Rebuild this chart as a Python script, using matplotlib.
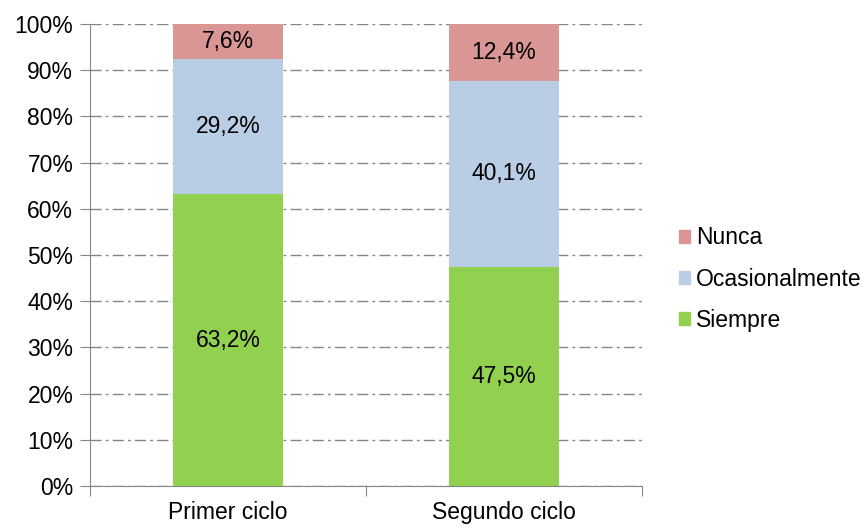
import matplotlib.pyplot as plt
from matplotlib.patches import Patch
import numpy as np

# Data
categories = ["Primer ciclo", "Segundo ciclo"]
siempre = [63.2, 47.5]
ocasionalmente = [29.2, 40.1]
nunca = [7.6, 12.4]
series_names = ["Siempre", "Ocasionalmente", "Nunca"]
colors = ["#92D050", "#B9CDE5", "#D99694"]

plt.rcParams["font.family"] = ["Liberation Sans", "DejaVu Sans"]
fs = 16.5

fig = plt.figure(figsize=(8.66, 5.29), dpi=100)
ax = fig.add_axes([90 / 866, 1 - 486 / 529, 552 / 866, 462 / 529])

x = np.arange(len(categories))
width = 0.4
bottom = np.zeros(len(categories))
for values, name, color in zip([siempre, ocasionalmente, nunca], series_names, colors):
    ax.bar(x, values, width, bottom=bottom, color=color, label=name, zorder=3)
    # Labels centred in each segment
    for xi, b, v in zip(x, bottom, values):
        ax.text(xi, b + v / 2, f"{v:.1f}%".replace(".", ","),
                ha="center", va="center", fontsize=fs, zorder=4)
    bottom += values

# Axes limits and ticks
ax.set_xlim(-0.5, 1.5)
ax.set_ylim(0, 100)
ax.set_yticks(np.arange(0, 101, 10))
ax.set_yticklabels([f"{v}%" for v in range(0, 101, 10)], fontsize=fs)
ax.set_xticks([-0.5, 0.5, 1.5])
ax.set_xticklabels([])
ax.set_xticks(x, minor=True)
ax.set_xticklabels(categories, minor=True, fontsize=fs)
ax.tick_params(axis="x", which="minor", length=0, pad=11)
ax.tick_params(axis="x", which="major", length=7, color="#868686")
ax.tick_params(axis="y", length=7, color="#868686", pad=5)

# Grid and spines
ax.grid(axis="y", color="#868686", linewidth=1, dashes=(8, 3, 2, 3), zorder=0)
for side in ["top", "right"]:
    ax.spines[side].set_visible(False)
for side in ["left", "bottom"]:
    ax.spines[side].set_color("#868686")

# Legend (reverse order like the original)
handles = [Patch(color=c, label=n) for c, n in zip(colors, series_names)][::-1]
fig.legend(handles=handles, loc="center left", bbox_to_anchor=(679 / 866, 1 - 279 / 529),
           frameon=False, fontsize=fs, handlelength=0.5, handleheight=0.5,
           handletextpad=0.25, labelspacing=0.8, borderpad=0, borderaxespad=0)

fig.savefig("out.png", dpi=100)
